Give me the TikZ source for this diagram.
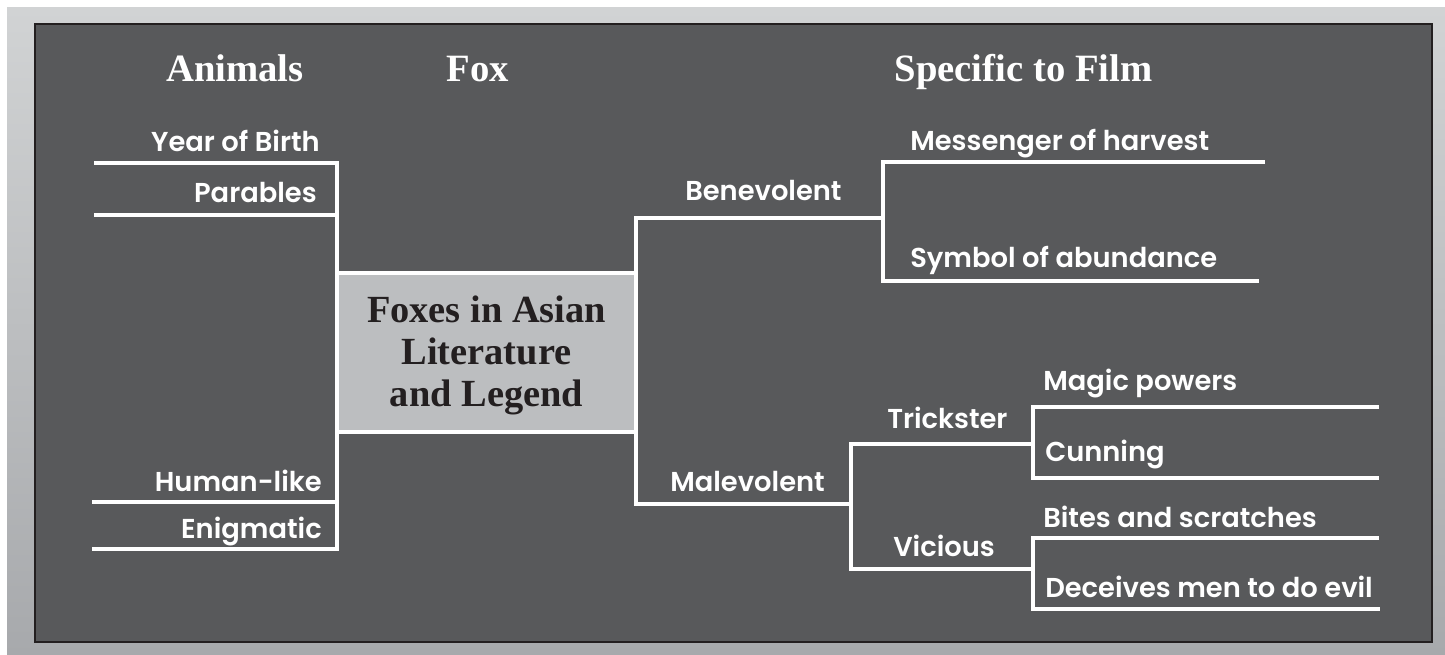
\documentclass[tikz,border=0pt]{standalone}
\usepackage{fontspec}
\newfontfamily\hdfont{Liberation Serif}
\newfontfamily\fufont{Poppins SemiBold}
\definecolor{panel}{HTML}{58595B}
\definecolor{boxgray}{HTML}{BCBEC0}
\definecolor{ink}{HTML}{231F20}
\definecolor{bgtop}{HTML}{D1D3D4}
\definecolor{bgbot}{HTML}{A7A9AC}
\begin{document}
\begin{tikzpicture}[x=0.75pt,y=-0.75pt,
  wl/.style={draw=white,line width=3.6pt,line join=miter},
  head/.style={text=white,font=\hdfont\bfseries\fontsize{29}{32}\selectfont,inner sep=0pt,anchor=base},
  lbl/.style={text=white,font=\fufont\fontsize{20.5}{24}\selectfont,inner sep=0pt},
  lleft/.style={lbl,anchor=base east},
  lright/.style={lbl,anchor=base west},
  centerbox/.style={draw=white,fill=boxgray,line width=3.6pt,minimum width=224.25pt,minimum height=119.25pt,inner sep=0pt},
  centertext/.style={text=ink,align=center,inner sep=0pt,font=\hdfont\bfseries\fontsize{28.8}{31.5}\selectfont}]
\useasboundingbox (0,0) rectangle (1445,655);
\fill[white] (0,0) rectangle (1445,655);
\shade[top color=bgtop,bottom color=bgbot] (7,8) rectangle (1445,655);
\filldraw[fill=panel,draw=ink,line width=2pt] (35,24) rectangle (1432,642);

% headings
\node[head] (hAnimals) at (235,82) {Animals};
\node[head] (hFox) at (478,82) {Fox};
\node[head] (hFilm) at (1023.5,82) {Specific to Film};

% coordinates of the tree
\coordinate (yobL) at (94,163);  \coordinate (yobJ) at (337,163);
\coordinate (parL) at (94,215);  \coordinate (parJ) at (337,215);
\coordinate (humL) at (92,502);  \coordinate (humJ) at (337,502);
\coordinate (eniL) at (92,549);  \coordinate (eniJ) at (337,549);
\coordinate (benJ) at (636,218); \coordinate (benK) at (883,218);
\coordinate (malJ) at (636,504); \coordinate (malK) at (851,504);
\coordinate (mesJ) at (883,162); \coordinate (mesR) at (1265,162);
\coordinate (symJ) at (883,281); \coordinate (symR) at (1259,281);
\coordinate (triJ) at (851,444); \coordinate (triK) at (1033,444);
\coordinate (vicJ) at (851,569); \coordinate (vicK) at (1033,569);
\coordinate (magJ) at (1033,407); \coordinate (magR) at (1379,407);
\coordinate (cunJ) at (1033,478); \coordinate (cunR) at (1379,478);
\coordinate (bitJ) at (1033,538); \coordinate (bitR) at (1379,538);
\coordinate (decJ) at (1033,609); \coordinate (decR) at (1380,609);

% left side
\draw[wl] (yobL) -- (yobJ) -- (eniJ) -- (eniL);
\draw[wl] (parL) -- (parJ);
\draw[wl] (humL) -- (humJ);
% right side
\draw[wl] (benK) -- (benJ) -- (malJ) -- (malK);
\draw[wl] (mesR) -- (mesJ) -- (symJ) -- (symR);
\draw[wl] (triK) -- (triJ) -- (vicJ) -- (vicK);
\draw[wl] (magR) -- (magJ) -- (cunJ) -- (cunR);
\draw[wl] (bitR) -- (bitJ) -- (decJ) -- (decR);

% central box
\node[centerbox] (box) at (486.5,352.5) {};
\node[centertext] (boxtext) at (486.5,355.5) {Foxes in Asian\\Literature\\and Legend};

% labels
\node[lleft] (yob) at (320,152) {Year of Birth};
\node[lleft] (par) at (317,203) {Parables};
\node[lleft] (hum) at (322,491) {Human-like};
\node[lleft] (eni) at (322,538) {Enigmatic};
\node[lright] (ben) at (685,201) {Benevolent};
\node[lright] (mal) at (670,491) {Malevolent};
\node[lright] (tri) at (887,429) {Trickster};
\node[lright] (vic) at (893,556) {Vicious};
\node[lright] (mes) at (910,151) {Messenger of harvest};
\node[lright] (sym) at (910,268) {Symbol of abundance};
\node[lright] (mag) at (1043,391) {Magic powers};
\node[lright] (cun) at (1045,462) {Cunning};
\node[lright] (bit) at (1043,527) {Bites and scratches};
\node[lright] (dec) at (1045,597) {Deceives men to do evil};
\end{tikzpicture}
\end{document}
